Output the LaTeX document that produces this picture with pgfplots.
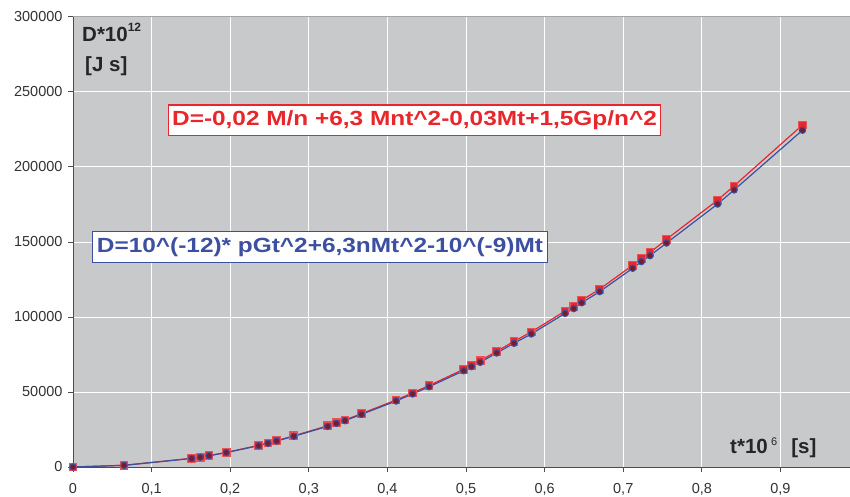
\documentclass[border=0pt]{standalone}
\usepackage{pgfplots}
\pgfplotsset{compat=1.18}
\usepackage{pgfplotstable}
\usepackage{graphicx}
\usepackage{fontspec}
\setmainfont{Liberation Sans}
\definecolor{bggray}{RGB}{200,201,203}
\definecolor{myred}{RGB}{232,38,43}
\definecolor{myblue}{RGB}{60,79,160}
\definecolor{mymaroon}{RGB}{120,28,45}
\definecolor{tickcol}{RGB}{50,50,50}

\pgfplotstableread{
t blue red
0 0 0
0.065 1100 1150
0.151 5700 5800
0.162 6500 6600
0.173 7500 7600
0.195 9600 9750
0.236 14200 14400
0.248 15800 16000
0.259 17300 17550
0.281 20500 20800
0.324 27100 27500
0.335 29100 29500
0.346 30900 31350
0.367 35100 35600
0.411 44000 44650
0.432 48700 49400
0.453 53500 54300
0.497 64200 65150
0.507 66900 67900
0.518 69800 70850
0.539 76000 77150
0.561 82500 83750
0.583 88700 90050
0.626 102400 103950
0.637 105600 107200
0.647 109500 111100
0.670 116900 118600
0.712 132500 134500
0.723 136900 138900
0.734 140900 142900
0.755 149300 151800
0.820 175300 177900
0.841 184700 187400
0.928 224500 228000
}\datatable

\begin{document}
\begin{tikzpicture}[x=1pt,y=1pt]
\begin{axis}[
  scale only axis,
  width=777pt, height=450pt,
  xmin=0, xmax=0.9885,
  ymin=0, ymax=300000,
  axis lines=left,
  axis line style={-, draw=black!70, line width=1pt},
  axis background/.style={fill=bggray},
  xtick={0,0.1,0.2,0.3,0.4,0.5,0.6,0.7,0.8,0.9},
  ytick={0,50000,100000,150000,200000,250000,300000},
  grid=major,
  major grid style={white, line width=1pt},
  tick align=outside,
  major tick length=5pt,
  tick style={draw=black!70, line width=1pt},
  scaled y ticks=false,
  scaled x ticks=false,
  /pgf/number format/assume math mode=true,
  xticklabel style={/pgf/number format/fixed, /pgf/number format/precision=1, /pgf/number format/use comma},
  yticklabel style={/pgf/number format/fixed, /pgf/number format/1000 sep={}},
  ticklabel style={font=\fontsize{14.5}{14.5}\selectfont, text=tickcol},
  xticklabel style={yshift=-8pt},
  yticklabel style={xshift=-2pt},
  clip=false,
]
\addplot[myred, line width=1.2pt, mark=square*, mark size=3.8pt, mark options={fill=myred, draw=myred!80!white}] table[x=t, y=red] {\datatable};
\addplot[myblue, line width=1.2pt, mark=*, mark size=3.2pt, mark options={fill=mymaroon, draw=myblue, line width=1pt}] table[x=t, y=blue] {\datatable};
\end{axis}
\draw[black!35, line width=1pt] (0,450) -- (777,450);
% annotations
\node[draw=myred, line width=1.5pt, fill=white, inner xsep=3.5pt, inner ysep=5.5pt, text height=15pt, text depth=4.5pt, text=myred, font=\fontsize{20.5}{20.5}\selectfont\bfseries] at (341.5,346.5) {\scalebox{1.19}[1]{D=-0,02 M/n +6,3 Mnt\^{}2-0,03Mt+1,5Gp/n\^{}2}};
\node[draw=myblue, line width=1pt, fill=white, inner xsep=4pt, inner ysep=5.5pt, text height=15pt, text depth=4.5pt, text=myblue, font=\fontsize{20.5}{20.5}\selectfont\bfseries] at (247,219.8) {\scalebox{1.19}[1]{D=10\^{}(-12)* pGt\^{}2+6,3nMt\^{}2-10\^{}(-9)Mt}};
% axis titles
\node[anchor=base west, inner sep=0pt, text=black!85, font=\fontsize{20.5}{20.5}\selectfont\bfseries] at (9,425) {D*10\raisebox{10pt}{\fontsize{12}{12}\selectfont 12}};
\node[anchor=base west, inner sep=0pt, text=black!85, font=\fontsize{20.5}{20.5}\selectfont\bfseries] at (12,395) {[J s]};
\node[anchor=base west, inner sep=0pt, text=black!85, font=\fontsize{20.5}{20.5}\selectfont\bfseries] at (657,13.7) {t*10\,\raisebox{8pt}{\fontsize{11}{11}\selectfont\mdseries 6}\hspace{14pt}[s]};
\pgfresetboundingbox
\path (-73,-29) rectangle (777,467);
\end{tikzpicture}
\end{document}
